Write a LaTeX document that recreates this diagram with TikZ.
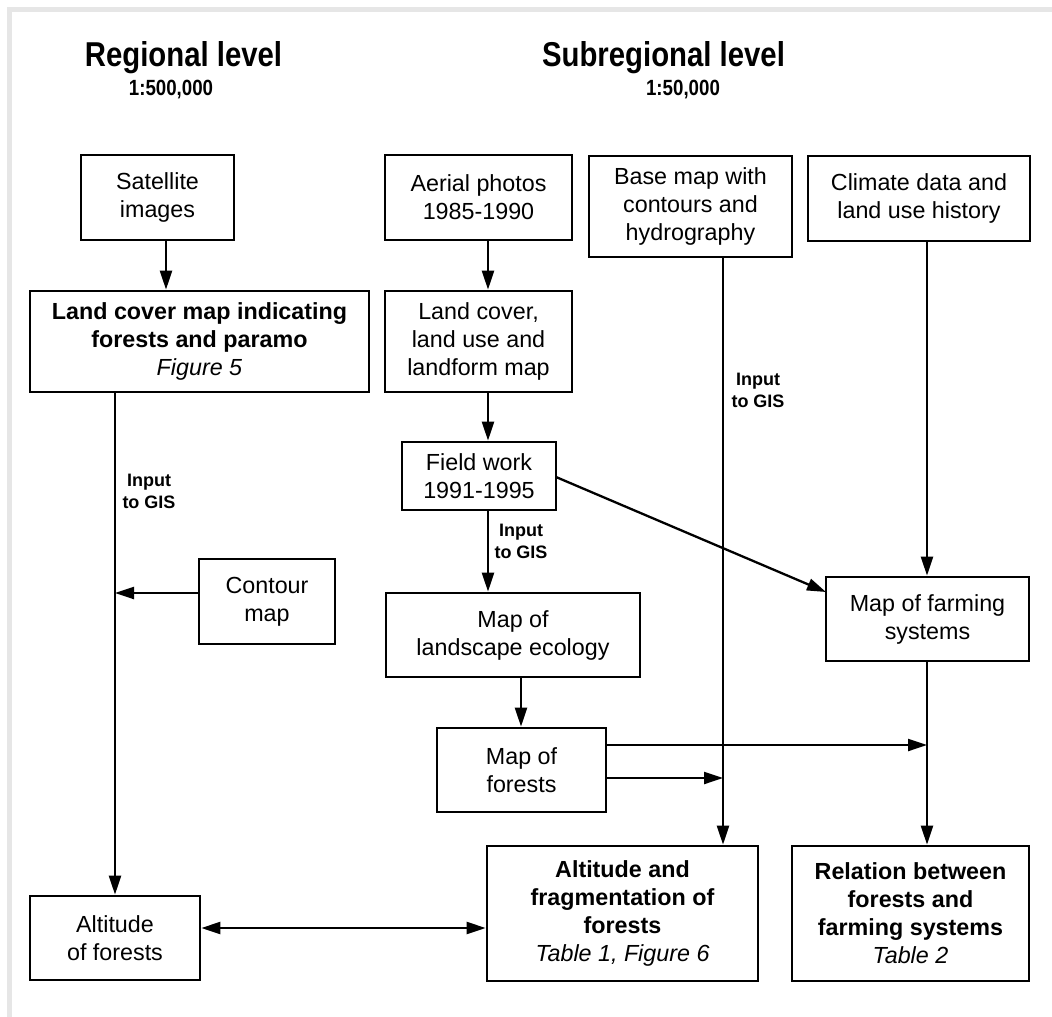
\documentclass[tikz,border=0pt]{standalone}
\usepackage{fontspec}
\setmainfont{Liberation Sans}
\newfontfamily\narrowsans{Liberation Sans}[FakeStretch=0.85]
\usetikzlibrary{arrows.meta}
\definecolor{framegray}{HTML}{E6E6E6}
\begin{document}
\begin{tikzpicture}[x=1pt,y=-1pt,
  box/.style={draw, line width=2.7pt, inner sep=0pt, align=center,
    font=\fontsize{23.3}{28}\selectfont},
  arr/.style={draw, line width=2.3pt, -{Triangle[length=19pt,width=12pt]}},
  dblarr/.style={draw, line width=2.3pt, {Triangle[length=19pt,width=12pt]}-{Triangle[length=19pt,width=12pt]}},
  lbl/.style={inner sep=0pt, align=center, font=\bfseries\fontsize{18}{22}\selectfont},
  titletext/.style={inner sep=0pt, anchor=base, font=\narrowsans\bfseries\fontsize{34.5}{40}\selectfont},
  scaletext/.style={inner sep=0pt, anchor=base, font=\narrowsans\bfseries\fontsize{22}{26}\selectfont}]
\useasboundingbox (0,0) rectangle (1052,1017);
\fill[white] (0,0) rectangle (1052,1017);
\fill[framegray] (7,7) rectangle (1052,12);
\fill[framegray] (7,7) rectangle (12,1017);

% titles
\node[titletext] (t1) at (183.5,66) {Regional level};
\node[titletext] (t2) at (663.5,66) {Subregional level};
\node[scaletext] (s1) at (171,95) {1:500,000};
\node[scaletext] (s2) at (683,95) {1:50,000};

% boxes
\node[box, minimum width=153pt, minimum height=85pt] (sat) at (157.5,197.5) {Satellite\\images};
\node[box, minimum width=339pt, minimum height=101pt] (lc1) at (199.5,341.5)
  {\textbf{Land cover map indicating}\\\textbf{forests and paramo}\\\textit{Figure 5}};
\node[box, minimum width=187pt, minimum height=85pt] (aer) at (478.5,197.5) {Aerial photos\\1985-1990};
\node[box, minimum width=187pt, minimum height=101pt] (lc2) at (478.5,341.5) {Land cover,\\land use and\\landform map};
\node[box, minimum width=203pt, minimum height=101pt] (base) at (690.5,206.5) {Base map with\\contours and\\hydrography};
\node[box, minimum width=222pt, minimum height=85pt] (clim) at (919,198.5) {Climate data and\\land use history};
\node[box, minimum width=154pt, minimum height=68pt] (field) at (479,476) {Field work\\1991-1995};
\node[box, minimum width=136pt, minimum height=85pt] (contour) at (267,601.5) {Contour\\map};
\node[box, minimum width=254pt, minimum height=84pt] (land) at (513,635) {Map of\\landscape ecology};
\node[box, minimum width=203pt, minimum height=84pt] (farm) at (927.5,619) {Map of farming\\systems};
\node[box, minimum width=169pt, minimum height=84pt] (forests) at (521.5,770) {Map of\\forests};
\node[box, minimum width=170pt, minimum height=84pt] (alt) at (115,938) {Altitude\\of forests};
\node[box, minimum width=271pt, minimum height=135pt] (altfrag) at (622.5,913.5)
  {\textbf{Altitude and}\\\textbf{fragmentation of}\\\textbf{forests}\\\textit{Table 1, Figure 6}};
\node[box, minimum width=237pt, minimum height=135pt] (rel) at (910.5,913.5)
  {\textbf{Relation between}\\\textbf{forests and}\\\textbf{farming systems}\\\textit{Table 2}};

% labels
\node[lbl] (g1) at (149,491) {Input\\to GIS};
\node[lbl] (g2) at (521,541) {Input\\to GIS};
\node[lbl] (g3) at (758,390) {Input\\to GIS};

% column / row coordinates
\coordinate (xs) at (166,0);
\coordinate (xa) at (488,0);
\coordinate (xb) at (723,0);
\coordinate (xc) at (927,0);
\coordinate (xl) at (115,0);
\coordinate (xf) at (521,0);
\coordinate (yc) at (0,593);
\coordinate (yu) at (0,745);
\coordinate (yd) at (0,778);
\coordinate (yh) at (0,928);
\coordinate (fend) at (826,592);
\coordinate (fstart) at (556,477);
\coordinate (jc) at (115,593);
\coordinate (jb) at (723,778);
\coordinate (jf) at (927,745);

% connectors
\draw[arr] (sat.south -| xs) -- (lc1.north -| xs);
\draw[arr] (aer.south -| xa) -- (lc2.north -| xa);
\draw[arr] (lc2.south -| xa) -- (field.north -| xa);
\draw[arr] (field.south -| xa) -- (land.north -| xa);
\draw[arr] (base.south -| xb) -- (altfrag.north -| xb);
\draw[arr] (clim.south -| xc) -- (farm.north -| xc);
\draw[arr] (fstart) -- (fend);
\draw[arr] (lc1.south -| xl) -- (alt.north -| xl);
\draw[arr] (contour.west |- yc) -- (jc);
\draw[arr] (land.south -| xf) -- (forests.north -| xf);
\draw[arr] (forests.east |- yu) -- (jf);
\draw[arr] (forests.east |- yd) -- (jb);
\draw[arr] (farm.south -| xc) -- (rel.north -| xc);
\draw[dblarr] (alt.east |- yh) -- (altfrag.west |- yh);
\end{tikzpicture}
\end{document}
